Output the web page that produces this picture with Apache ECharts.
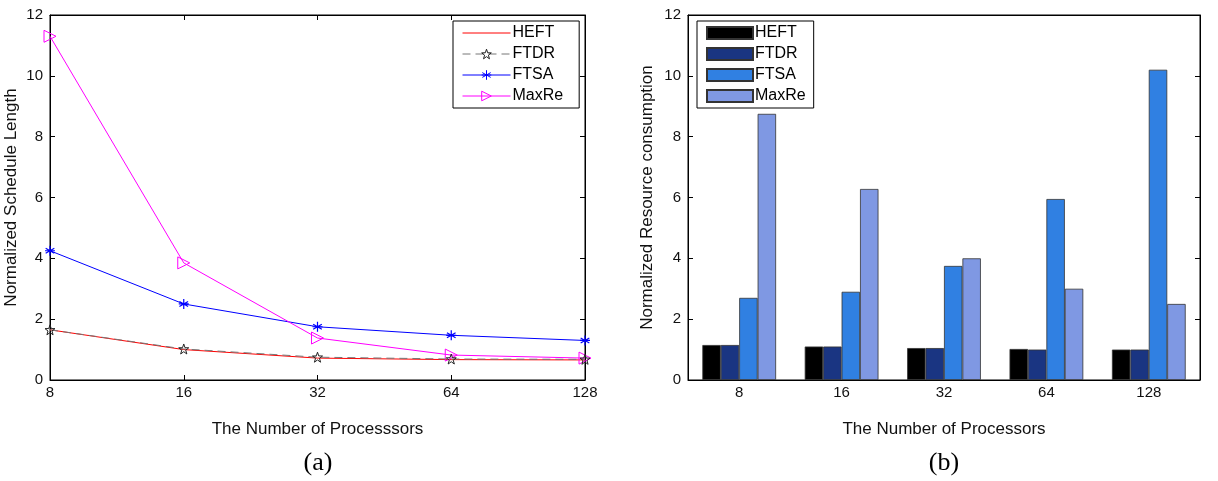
<!DOCTYPE html>
<html><head><meta charset="utf-8">
<script src="https://cdn.jsdelivr.net/npm/echarts@6/dist/echarts.min.js"></script>
<style>html,body{margin:0;padding:0;background:#fff}#c{width:1218px;height:481px}</style>
</head><body><div id="c"></div>
<script>
const processors = ['8','16','32','64','128'];
const yTicks = [0,2,4,6,8,10,12];
// (a) Normalized Schedule Length
const slHEFT = [1.65, 1.00, 0.72, 0.67, 0.66];
const slFTDR = [1.65, 1.02, 0.75, 0.69, 0.68];
const slFTSA = [4.25, 2.50, 1.75, 1.47, 1.30];
const slMaxRe = [11.3, 3.85, 1.38, 0.82, 0.72];
// (b) Normalized Resource consumption
const rcHEFT = [1.15, 1.10, 1.05, 1.02, 1.00];
const rcFTDR = [1.15, 1.10, 1.05, 1.00, 1.00];
const rcFTSA = [2.70, 2.90, 3.75, 5.95, 10.2];
const rcMaxRe = [8.75, 6.28, 4.00, 3.00, 2.50];

const FONT = 'Liberation Sans';
const starPath = 'path://M0,-10 L2.35,-3.24 L9.51,-3.09 L3.8,1.24 L5.88,8.09 L0,4 L-5.88,8.09 L-3.8,1.24 L-9.51,-3.09 L-2.35,-3.24 Z';
const astPath = 'path://M0,-10 L0,10 M-8.66,-5 L8.66,5 M-8.66,5 L8.66,-5 M-10,0 L10,0';
const triPath = 'path://M0,0 L10,5 L0,10 Z';

const chart = echarts.init(document.getElementById('c'), null, {renderer:'canvas'});

function yAx(gi, name, gap, right){
  return {
    type:'value', gridIndex:gi, min:0, max:12, interval:2, position: right?'right':'left',
    name: right?'':name, nameLocation:'middle', nameGap:gap,
    nameTextStyle:{fontFamily:FONT, fontSize:17, color:'#111'},
    axisLine:{show:true, lineStyle:{color:'#000', width:1}},
    axisTick:{show:true, inside:true, length:5, lineStyle:{color:'#000'}},
    axisLabel:{show:!right, fontFamily:FONT, fontSize:15, color:'#111', margin:7,
      formatter: v => yTicks.includes(v) ? String(v) : ''},
    splitLine:{show:false}
  };
}
function xAx(gi, name, bg, top){
  return {
    type:'category', gridIndex:gi, data:processors, boundaryGap:bg, position: top?'top':'bottom',
    name: top?'':name, nameLocation:'middle', nameGap:41,
    nameTextStyle:{fontFamily:FONT, fontSize:17, color:'#111'},
    axisLine:{show:true, onZero:false, lineStyle:{color:'#000', width:1}},
    axisTick:{show:!bg, inside:true, length:5, alignWithLabel:true, lineStyle:{color:'#000'}},
    axisLabel:{show:!top, fontFamily:FONT, fontSize:15, color:'#111', margin:5},
    splitLine:{show:false}
  };
}

const option = {
  backgroundColor:'#fff',
  animation:false,
  graphic:[
    {type:'text', x:318, y:450, style:{text:'(a)', font:'26px "Liberation Serif"', fill:'#000', textAlign:'center'}},
    {type:'text', x:944, y:450, style:{text:'(b)', font:'26px "Liberation Serif"', fill:'#000', textAlign:'center'}}
  ],
  grid:[
    {left:50, right:633, top:15, bottom:101, show:true, borderColor:'#000', borderWidth:1},
    {left:688, right:18, top:15, bottom:101, show:true, borderColor:'#000', borderWidth:1}
  ],
  legend:[
    {data:['HEFT','FTDR','FTSA','MaxRe'], orient:'vertical',
     left:453, top:21, itemWidth:48, itemHeight:12, itemGap:5, padding:[4,16,4,9],
     borderColor:'#000', borderWidth:1, backgroundColor:'#fff',
     lineStyle:{width:1}, itemStyle:{borderWidth:1},
     textStyle:{fontFamily:FONT, fontSize:16, color:'#000', padding:[0,0,0,-3]}},
    {data:['HEFT ','FTDR ','FTSA ','MaxRe '], orient:'vertical',
     left:697, top:21, itemWidth:46, itemHeight:12, itemGap:5, padding:[4,8,4,9],
     borderColor:'#000', borderWidth:1, backgroundColor:'#fff', icon:'rect',
     textStyle:{fontFamily:FONT, fontSize:16, color:'#000', padding:[0,0,0,-3]},
     formatter: n => n.trim()}
  ],
  xAxis:[xAx(0,'The Number of Processsors',false,false), xAx(0,'',false,true),
         xAx(1,'The Number of Processors',true,false), xAx(1,'',true,true)],
  yAxis:[yAx(0,'Normalized Schedule Length',30,false), yAx(0,'',0,true),
         yAx(1,'Normalized Resource consumption',32,false), yAx(1,'',0,true)],
  series:[
    {name:'HEFT', type:'line', xAxisIndex:0, yAxisIndex:0, data:slHEFT, symbol:'circle', showSymbol:false, symbolSize:1,
     lineStyle:{color:'#ff0000', width:1}, itemStyle:{color:'rgba(0,0,0,0)', borderColor:'rgba(0,0,0,0)', borderWidth:0}, z:3},
    {name:'FTDR', type:'line', xAxisIndex:0, yAxisIndex:0, data:slFTDR, symbol:starPath, symbolSize:10,
     lineStyle:{color:'#777', width:1, type:[8,5]}, itemStyle:{color:'rgba(255,255,255,0)', borderColor:'#222', borderWidth:1}, z:4},
    {name:'FTSA', type:'line', xAxisIndex:0, yAxisIndex:0, data:slFTSA, symbol:astPath, symbolSize:10,
     lineStyle:{color:'#0000ff', width:1}, itemStyle:{color:'rgba(0,0,0,0)', borderColor:'#0000ff', borderWidth:1.2}, z:3},
    {name:'MaxRe', type:'line', xAxisIndex:0, yAxisIndex:0, data:slMaxRe, symbol:triPath, symbolSize:12,
     lineStyle:{color:'#ff00ff', width:1}, itemStyle:{color:'rgba(255,255,255,0)', borderColor:'#ff00ff', borderWidth:1}, z:3},
    {name:'HEFT ', type:'bar', xAxisIndex:2, yAxisIndex:2, data:rcHEFT, barGap:'0%', barCategoryGap:'28%',
     itemStyle:{color:'#000000', borderColor:'#333', borderWidth:0.8}},
    {name:'FTDR ', type:'bar', xAxisIndex:2, yAxisIndex:2, data:rcFTDR,
     itemStyle:{color:'#1a3582', borderColor:'#333', borderWidth:0.8}},
    {name:'FTSA ', type:'bar', xAxisIndex:2, yAxisIndex:2, data:rcFTSA,
     itemStyle:{color:'#3080e2', borderColor:'#333', borderWidth:0.8}},
    {name:'MaxRe ', type:'bar', xAxisIndex:2, yAxisIndex:2, data:rcMaxRe,
     itemStyle:{color:'#7f98e3', borderColor:'#333', borderWidth:0.8}}
  ]
};
chart.setOption(option);
</script></body></html>
